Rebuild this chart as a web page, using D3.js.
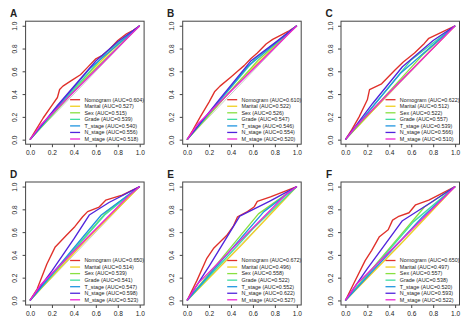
<!DOCTYPE html>
<html>
<head>
    <meta charset="UTF-8">
    <title>roc panels</title>
    <style>
        body { margin: 0; background: #fff; }
        text { font-family: "Liberation Sans", Arial, sans-serif; fill: #222; }
        .box { fill: none; stroke: #444; stroke-width: 1px; }
        .tick line { stroke: #444; }
        .roc { fill: none; stroke-width: 1.35px; stroke-linejoin: round; }
    </style>
</head>
<body>
<svg width="474" height="329"></svg>
<script src="https://cdn.jsdelivr.net/npm/d3@7"></script>
<script>

    // series names and colours (rainbow(7) in R, softened a bit)
    var seriesNames = ["Nomogram", "Marital", "Sex", "Grade", "T_stage", "N_stage", "M_stage"];
    var seriesColors = ["#e0302a", "#f0d020", "#88e040", "#40dea0", "#2096e0", "#5024dc", "#ec24d4"];
    var panelLabels = ["A", "B", "C", "D", "E", "F"];
    var tickValues = [0, 0.2, 0.4, 0.6, 0.8, 1.0];

    // AUC per panel, same order as seriesNames
    var aucA = [0.604, 0.527, 0.515, 0.539, 0.540, 0.556, 0.518];
    var aucB = [0.610, 0.522, 0.526, 0.547, 0.546, 0.554, 0.520];
    var aucC = [0.622, 0.512, 0.522, 0.557, 0.539, 0.566, 0.510];
    var aucD = [0.650, 0.514, 0.539, 0.541, 0.547, 0.598, 0.523];
    var aucE = [0.672, 0.496, 0.558, 0.522, 0.552, 0.622, 0.527];
    var aucF = [0.650, 0.497, 0.557, 0.538, 0.520, 0.593, 0.522];

    // ROC points [1-specificity, sensitivity]
    var rocA = [
        [[0,0],[0.05,0.08],[0.12,0.19],[0.2,0.3],[0.25,0.37],[0.27,0.44],[0.3,0.47],[0.38,0.52],[0.46,0.57],[0.52,0.63],[0.6,0.71],[0.66,0.74],[0.72,0.79],[0.8,0.87],[0.88,0.93],[0.94,0.96],[1,1]],
        [[0,0],[0.4,0.45],[0.75,0.79],[1,1]],
        [[0,0],[0.5,0.53],[1,1]],
        [[0,0],[0.7,0.77],[1,1]],
        [[0,0],[0.55,0.63],[1,1]],
        [[0,0],[0.25,0.3],[0.6,0.69],[0.8,0.86],[1,1]],
        [[0,0],[0.1,0.13],[1,1]]
    ];
    var rocB = [
        [[0,0],[0.05,0.08],[0.12,0.2],[0.2,0.33],[0.25,0.42],[0.3,0.47],[0.4,0.55],[0.46,0.6],[0.52,0.65],[0.58,0.71],[0.64,0.76],[0.72,0.84],[0.78,0.88],[0.86,0.92],[0.92,0.95],[1,1]],
        [[0,0],[0.5,0.54],[1,1]],
        [[0,0],[0.65,0.7],[1,1]],
        [[0,0],[0.62,0.71],[1,1]],
        [[0,0],[0.55,0.64],[1,1]],
        [[0,0],[0.3,0.36],[0.58,0.69],[0.8,0.85],[1,1]],
        [[0,0],[0.1,0.14],[1,1]]
    ];
    var rocC = [
        [[0,0],[0.06,0.09],[0.125,0.2],[0.2,0.35],[0.22,0.44],[0.33,0.49],[0.45,0.61],[0.525,0.68],[0.63,0.76],[0.72,0.845],[0.76,0.89],[0.87,0.94],[1,1]],
        [[0,0],[0.5,0.51],[1,1]],
        [[0,0],[0.7,0.74],[1,1]],
        [[0,0],[0.6,0.7],[1,1]],
        [[0,0],[0.5,0.58],[1,1]],
        [[0,0],[0.25,0.32],[0.52,0.64],[0.8,0.87],[1,1]],
        [[0,0],[0.1,0.12],[1,1]]
    ];
    var rocD = [
        [[0,0],[0.065,0.1],[0.154,0.32],[0.23,0.47],[0.33,0.57],[0.41,0.65],[0.48,0.735],[0.525,0.78],[0.63,0.82],[0.69,0.88],[0.84,0.925],[1,1]],
        [[0,0],[0.5,0.52],[1,1]],
        [[0,0],[0.7,0.78],[1,1]],
        [[0,0],[0.68,0.75],[1,1]],
        [[0,0],[0.65,0.75],[1,1]],
        [[0,0],[0.2,0.26],[0.4,0.54],[0.54,0.75],[0.72,0.86],[1,1]],
        [[0,0],[0.1,0.14],[0.9,0.92],[1,1]]
    ];
    var rocE = [
        [[0,0],[0.09,0.176],[0.18,0.37],[0.24,0.456],[0.36,0.57],[0.42,0.65],[0.46,0.735],[0.55,0.78],[0.61,0.82],[0.64,0.87],[0.76,0.91],[1,1]],
        [[0,0],[0.5,0.49],[1,1]],
        [[0,0],[0.65,0.76],[1,1]],
        [[0,0],[0.6,0.63],[1,1]],
        [[0,0],[0.7,0.78],[1,1]],
        [[0,0],[0.2,0.3],[0.48,0.74],[0.75,0.87],[1,1]],
        [[0,0],[0.1,0.15],[0.9,0.93],[1,1]]
    ];
    var rocF = [
        [[0,0],[0.075,0.147],[0.18,0.35],[0.24,0.44],[0.31,0.56],[0.39,0.62],[0.43,0.705],[0.48,0.735],[0.58,0.77],[0.64,0.84],[0.76,0.88],[1,1]],
        [[0,0],[0.5,0.49],[1,1]],
        [[0,0],[0.72,0.82],[1,1]],
        [[0,0],[0.62,0.69],[1,1]],
        [[0,0],[0.7,0.73],[1,1]],
        [[0,0],[0.2,0.28],[0.52,0.7],[0.78,0.86],[1,1]],
        [[0,0],[0.1,0.14],[1,1]]
    ];

    var panels = [
        {label: panelLabels[0], auc: aucA, roc: rocA},
        {label: panelLabels[1], auc: aucB, roc: rocB},
        {label: panelLabels[2], auc: aucC, roc: rocC},
        {label: panelLabels[3], auc: aucD, roc: rocD},
        {label: panelLabels[4], auc: aucE, roc: rocE},
        {label: panelLabels[5], auc: aucF, roc: rocF}
    ];

    var svg = d3.select("svg");
    var colLeft = [25.6, 182.7, 341];
    var rowTop = [21.2, 182];
    var boxW = 118.5, boxH = 123;

    panels.forEach(function (p, i) {
        var left = colLeft[i % 3], top = rowTop[Math.floor(i / 3)];
        var g = svg.append("g").attr("transform", "translate(" + left + "," + top + ")");

        // R style: 4% padding on both ends
        var x = d3.scaleLinear().domain([-0.04, 1.04]).range([0, boxW]);
        var y = d3.scaleLinear().domain([-0.04, 1.04]).range([boxH, 0]);

        //x轴
        var xa = g.append("g")
            .attr("transform", "translate(0," + boxH + ")")
            .call(d3.axisBottom(x).tickValues(tickValues).tickFormat(d3.format(".1f")).tickSize(3).tickPadding(3));
        xa.select(".domain").remove();
        xa.selectAll("text").style("font-size", "6.6px").attr("fill", "#222");

        //y轴，标签竖排
        var ya = g.append("g")
            .call(d3.axisLeft(y).tickValues(tickValues).tickFormat(d3.format(".1f")).tickSize(3).tickPadding(3));
        ya.select(".domain").remove();
        ya.selectAll("text")
            .style("font-size", "6.6px").attr("fill", "#222")
            .attr("text-anchor", "middle")
            .attr("x", 0).attr("dy", 0)
            .attr("transform", "translate(-8.5,0) rotate(-90)");

        // diagonal reference
        g.append("line")
            .attr("x1", x(0)).attr("y1", y(0))
            .attr("x2", x(1)).attr("y2", y(1))
            .attr("stroke", "#c8c8c8").attr("stroke-width", 1);

        var line = d3.line()
            .x(function (d) { return x(d[0]); })
            .y(function (d) { return y(d[1]); });

        g.selectAll(".roc")
            .data(p.roc)
            .enter().append("path")
            .attr("class", "roc")
            .attr("stroke", function (d, k) { return seriesColors[k]; })
            .attr("d", line);

        g.append("rect").attr("class", "box")
            .attr("width", boxW).attr("height", boxH);

        // legend, bottom right, no frame
        var lg = g.append("g").attr("transform", "translate(" + (boxW - 74) + "," + (boxH - 44.5) + ")");
        var rows = lg.selectAll("g").data(seriesNames).enter().append("g")
            .attr("transform", function (d, k) { return "translate(0," + (k * 6.55) + ")"; });
        rows.append("line")
            .attr("x1", 0).attr("x2", 10)
            .attr("stroke", function (d, k) { return seriesColors[k]; })
            .attr("stroke-width", 1.3);
        rows.append("text")
            .attr("x", 14.3).attr("dy", "0.35em")
            .style("font-size", "5.4px")
            .text(function (d, k) { return d + " (AUC=" + p.auc[k].toFixed(3) + ")"; });

        // panel letter
        g.append("text")
            .attr("x", -12).attr("y", -8)
            .attr("text-anchor", "middle")
            .attr("dy", "0.35em")
            .style("font-size", "10px").style("font-weight", "bold")
            .attr("fill", "#111")
            .text(p.label);
    });

</script>
</body>
</html>
